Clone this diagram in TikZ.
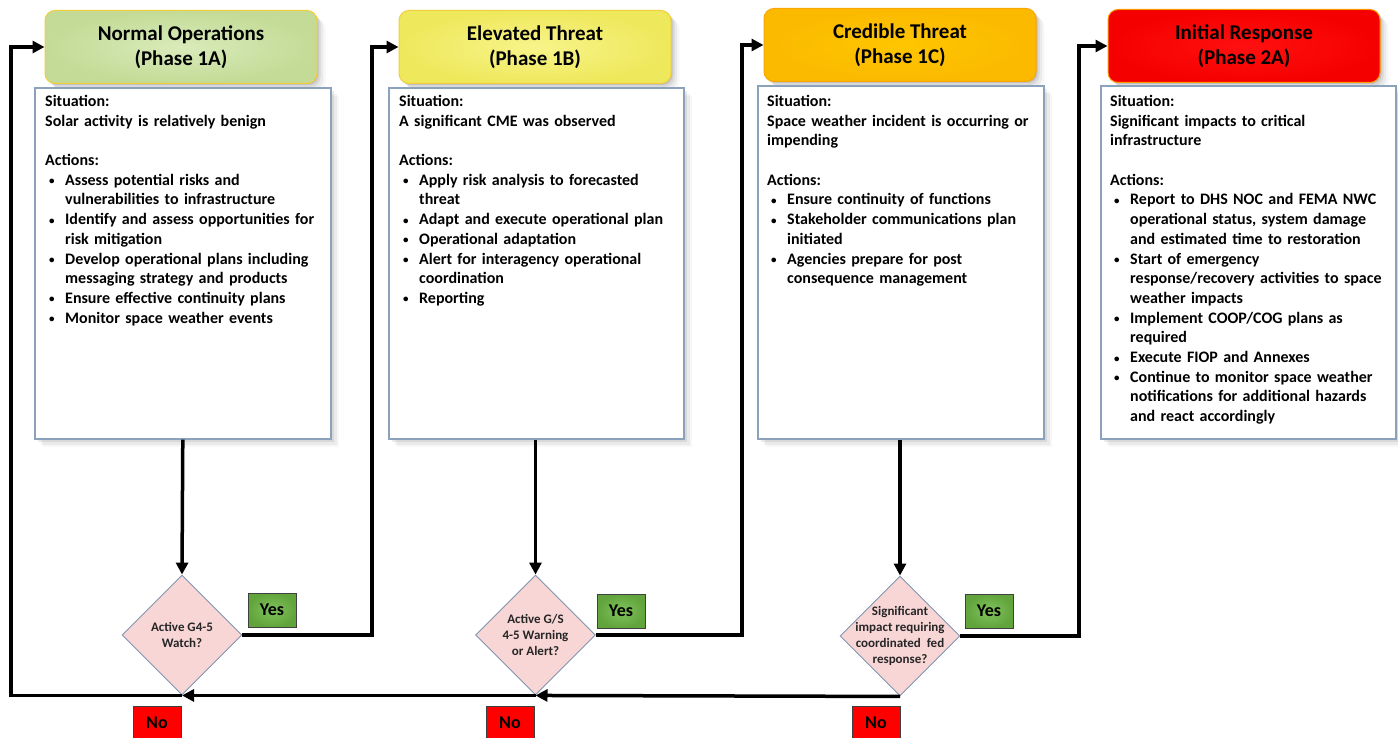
\documentclass[tikz,border=0pt]{standalone}
\usepackage{fontspec}
\setmainfont{Carlito}
\usetikzlibrary{shapes.geometric,arrows.meta,shadows,calc}
\definecolor{grnA}{HTML}{D9EBBB}
\definecolor{grnB}{HTML}{C3DB96}
\definecolor{yelA}{HTML}{F8F48A}
\definecolor{yelB}{HTML}{EEE85C}
\definecolor{oraA}{HTML}{FFC600}
\definecolor{oraB}{HTML}{FBB900}
\definecolor{redA}{HTML}{FF1010}
\definecolor{redB}{HTML}{F50000}
\definecolor{hdline}{HTML}{F2CE3A}
\definecolor{boxline}{HTML}{8CA2BC}
\definecolor{diafill}{HTML}{F9D6D6}
\definecolor{dialine}{HTML}{7F95B0}
\definecolor{yesA}{HTML}{80C35C}
\definecolor{yesB}{HTML}{62A43C}
\definecolor{noC}{HTML}{FF0000}
\newcommand\bnl{\hfil\break}
\newcommand\bitem[1]{\par\hangindent=20pt\hangafter=1\noindent\makebox[20pt][l]{\hspace{4pt}\raisebox{0.5pt}{\fontsize{11}{11}\selectfont•}}{\let\\\bnl #1}}
\tikzset{
  softshadow/.style={
    drop shadow={shadow xshift=1.5pt, shadow yshift=-1.5pt, opacity=0.10, fill=black},
    drop shadow={shadow xshift=3.5pt, shadow yshift=-3.5pt, opacity=0.08, fill=black},
    drop shadow={shadow xshift=6pt, shadow yshift=-6pt, opacity=0.05, fill=black},
    drop shadow={shadow xshift=8.5pt, shadow yshift=-8.5pt, opacity=0.03, fill=black}},
  hdr/.style={softshadow, draw=hdline, line width=1pt, rounded corners=10pt, minimum width=272pt, minimum height=73pt,
    align=center, font=\fontsize{21}{24.5}\selectfont\bfseries, inner sep=0pt},
  infobox/.style={softshadow, draw=boxline, line width=1.6pt, fill=white, minimum height=351pt, anchor=north west, inner sep=0pt},
  boxtext/.style={anchor=north west, inner sep=0pt, text width=282pt,
    font=\fontsize{16}{19.7}\selectfont\bfseries},
  diam/.style={diamond, draw=dialine, line width=0.9pt, fill=diafill, minimum width=120pt, minimum height=120pt, inner sep=0pt},
  diatext/.style={align=center, inner sep=0pt, text=black!85, font=\fontsize{13}{16}\selectfont\bfseries},
  yesbox/.style={draw=black!75, line width=0.8pt, inner color=yesA, outer color=yesB, minimum width=48pt, minimum height=34pt,
    inner sep=0pt, font=\fontsize{18}{20}\selectfont\bfseries},
  nobox/.style={draw=black!75, line width=0.8pt, fill=noC, minimum width=48pt, minimum height=34pt,
    inner sep=0pt, font=\fontsize{18}{20}\selectfont\bfseries},
  conn/.style={draw=black, line width=3.5pt, -{Triangle[length=12pt,width=12pt]}},
}
\begin{document}
\begin{tikzpicture}[x=1pt,y=-1pt]
\useasboundingbox[fill=white] (0,0) rectangle (1398,738);

% headers
\node[hdr, inner color=grnA, outer color=grnB] (h1) at (181,47) {Normal Operations\\(Phase 1A)};
\node[hdr, inner color=yelA, outer color=yelB] (h2) at (535,47) {Elevated Threat\\(Phase 1B)};
\node[hdr, inner color=oraA, outer color=oraB, draw=oraB!90!red] (h3) at (900,45) {Credible Threat\\(Phase 1C)};
\node[hdr, inner color=redA, outer color=redB, draw=orange!80!yellow] (h4) at (1244,46) {Initial Response\\(Phase 2A)};

% info boxes
\node[infobox, minimum width=296pt] (b1) at (34,87) {};
\node[infobox, minimum width=295pt] (b2) at (388,87) {};
\node[infobox, minimum width=286pt, minimum height=353pt] (b3) at (757,85) {};
\node[infobox, minimum width=295pt, minimum height=353pt] (b4) at (1100,85) {};

\node[boxtext] (t1) at (45,95) {\raggedright
Situation:\\
Solar activity is relatively benign\\[19.7pt]
Actions:
\bitem{Assess potential risks and\\vulnerabilities to infrastructure}
\bitem{Identify and assess opportunities for\\risk mitigation}
\bitem{Develop operational plans including\\messaging strategy and products}
\bitem{Ensure effective continuity plans}
\bitem{Monitor space weather events}\par};

\node[boxtext] (t2) at (399,95) {\raggedright
Situation:\\
A significant CME was observed\\[19.7pt]
Actions:
\bitem{Apply risk analysis to forecasted\\threat}
\bitem{Adapt and execute operational plan}
\bitem{Operational adaptation}
\bitem{Alert for interagency operational\\coordination}
\bitem{Reporting}\par};

\node[boxtext] (t3) at (767,95) {\raggedright
Situation:\\
Space weather incident is occurring or\\impending\\[19.7pt]
Actions:
\bitem{Ensure continuity of functions}
\bitem{Stakeholder communications plan\\initiated}
\bitem{Agencies prepare for post\\consequence management}\par};

\node[boxtext] (t4) at (1110,95) {\raggedright
Situation:\\
Significant impacts to critical\\infrastructure\\[19.7pt]
Actions:
\bitem{Report to DHS NOC and FEMA NWC\\operational status, system damage\\and estimated time to restoration}
\bitem{Start of emergency\\response/recovery activities to space\\weather impacts}
\bitem{Implement COOP/COG plans as\\required}
\bitem{Execute FIOP and Annexes}
\bitem{Continue to monitor space weather\\notifications for additional hazards\\and react accordingly}\par};

% diamonds
\node[diam] (d1) at (182,635) {};
\node[diatext] (q1) at (d1.center) {Active G4-5\\Watch?};
\node[diam] (d2) at (535.5,635) {};
\node[diatext] (q2) at (d2.center) {Active G/S\\4-5 Warning\\or Alert?};
\node[diam] (d3) at (900,636) {};
\node[diatext] (q3) at (d3.center) {Significant\\impact requiring\\coordinated\ \ fed\\response?};

% yes / no
\node[yesbox] (y1) at (272,610) {Yes};
\node[yesbox] (y2) at (621,611) {Yes};
\node[yesbox] (y3) at (989,611) {Yes};
\node[nobox] (n1) at (157,723) {No};
\node[nobox] (n2) at (510,723) {No};
\node[nobox] (n3) at (876,723) {No};

% bend coordinates
\coordinate (k0) at (11,300);
\coordinate (k1) at (372,300);
\coordinate (k2) at (742,300);
\coordinate (k3) at (1079,300);

% connectors
\draw[conn] (b1.south) -- (d1.north);
\draw[conn] (b2.south -| d2.north) -- (d2.north);
\draw[conn] (b3.south -| d3.north) -- (d3.north);
\draw[conn] (d1.east) -| (k1) |- (h2.west);
\draw[conn] (d2.east) -| (k2) |- (h3.west);
\draw[conn] (d3.east) -| (k3) |- (h4.west);
\draw[conn] (d3.south) -- (d2.south);
\draw[conn] (d2.south) -- (d1.south);
\draw[conn] (d1.south) -| (k0) |- (h1.west);
\end{tikzpicture}
\end{document}
